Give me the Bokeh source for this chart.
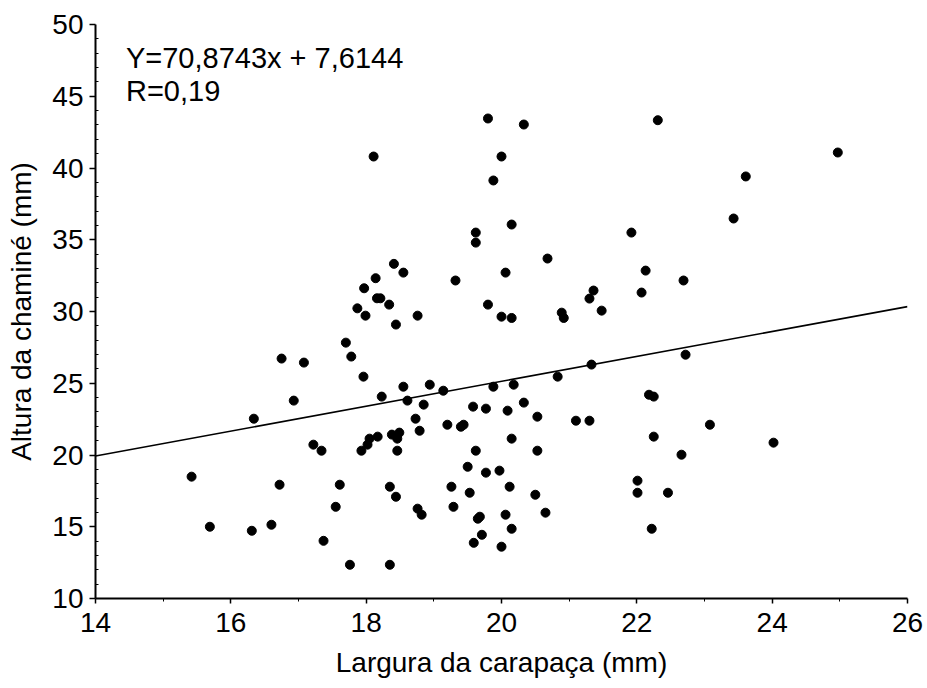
from bokeh.plotting import figure
from bokeh.models import Range1d, FixedTicker, Label, ColumnDataSource
from bokeh.embed import file_html
from bokeh.resources import INLINE

# Data
carapace_width = [
    18.11, 18.41, 18.55, 18.14, 17.97, 18.16, 18.21, 18.34, 17.87, 17.99,
    18.76, 19.32, 18.44, 19.80, 20.33, 22.31, 20.00, 19.88, 24.97, 23.61,
    23.43, 20.15, 19.62, 19.62, 21.92, 20.68, 20.06, 22.13, 22.69, 21.36,
    21.30, 22.07, 19.80, 21.48, 20.00, 20.15, 20.89, 20.92, 22.72, 21.33,
    20.83, 19.88, 20.18, 22.18, 22.25, 19.58, 19.77, 20.33, 20.09, 20.53,
    21.10, 21.30, 23.08, 19.44, 19.40, 20.15, 22.25, 24.02, 19.62, 20.53,
    22.66, 19.50, 19.97, 19.77, 20.12, 22.01, 22.01, 22.46, 19.53, 20.50,
    20.65, 20.06, 19.65, 19.68, 20.15, 22.22, 19.71, 19.59, 20.00, 15.42,
    15.69, 16.31, 16.60, 16.34, 16.75, 17.08, 16.93, 16.72, 17.22, 17.34,
    17.37, 17.61, 17.55, 17.76, 18.35, 17.70, 17.78, 17.96, 18.23, 18.55,
    18.61, 18.85, 18.73, 18.94, 19.14, 19.20, 18.79, 18.38, 18.46, 18.49,
    18.17, 18.05, 18.02, 17.93, 18.46, 18.35, 18.44, 18.76, 18.82, 19.26,
    19.29,
]
chimney_height = [
    40.80, 33.32, 32.71, 32.32, 31.62, 30.92, 30.92, 30.48, 30.22, 29.71,
    29.71, 32.16, 29.09, 43.45, 43.03, 43.33, 40.80, 39.13, 41.08, 39.41,
    36.48, 36.06, 35.50, 34.80, 35.50, 33.69, 32.71, 32.85, 32.16, 31.46,
    30.90, 31.32, 30.48, 30.06, 29.64, 29.55, 29.92, 29.55, 26.99, 26.30,
    25.46, 24.76, 24.90, 24.20, 24.07, 23.37, 23.23, 23.65, 23.09, 22.67,
    22.39, 22.39, 22.11, 22.11, 21.97, 21.14, 21.28, 20.86, 20.30, 20.30,
    20.02, 19.18, 18.91, 18.77, 17.79, 18.21, 17.37, 17.37, 17.37, 17.23,
    15.98, 15.84, 15.56, 15.70, 14.86, 14.86, 14.44, 13.88, 13.61, 18.49,
    15.00, 14.72, 15.14, 22.53, 26.72, 26.44, 23.79, 17.93, 20.72, 20.30,
    14.02, 17.93, 16.39, 12.35, 12.35, 27.83, 26.86, 25.46, 24.07, 24.76,
    23.79, 23.51, 22.53, 24.90, 24.48, 22.11, 21.69, 21.42, 21.14, 21.56,
    21.28, 21.14, 20.72, 20.30, 20.30, 17.79, 17.09, 16.26, 15.84, 17.79,
    16.39,
]
fit_x = [14, 26]
fit_y = [19.93, 30.34]

x_major_ticks = [14, 16, 18, 20, 22, 24, 26]
x_minor_ticks = [15, 17, 19, 21, 23, 25]
y_major_ticks = [10, 15, 20, 25, 30, 35, 40, 45, 50]
y_minor_ticks = [v for v in range(10, 51) if v % 5 != 0]

equation_text = "Y=70,8743x + 7,6144"
r_text = "R=0,19"
x_title = "Largura da carapaça (mm)"
y_title = "Altura da chaminé (mm)"

FONT = "Liberation Sans"
FS = "28px"

p = figure(width=927, height=688, output_backend="svg", toolbar_location=None,
           x_range=Range1d(14, 26), y_range=Range1d(10, 50),
           min_border_left=95, min_border_right=20,
           min_border_top=24, min_border_bottom=90)
p.outline_line_color = None
p.xgrid.visible = False
p.ygrid.visible = False
p.background_fill_color = "white"
p.border_fill_color = "white"

src = ColumnDataSource(dict(x=carapace_width, y=chimney_height))
p.scatter("x", "y", source=src, size=9, color="black", line_color="black")
p.line(fit_x, fit_y, line_color="black", line_width=1.6)

for ax in (p.xaxis[0], p.yaxis[0]):
    ax.axis_line_width = 2
    ax.axis_line_color = "black"
    ax.major_tick_line_color = "black"
    ax.major_tick_line_width = 1.5
    ax.minor_tick_line_color = "black"
    ax.minor_tick_line_width = 1
    ax.major_label_text_font = FONT
    ax.major_label_text_font_size = FS
    ax.major_label_text_color = "black"
    ax.axis_label_text_font = FONT
    ax.axis_label_text_font_size = FS
    ax.axis_label_text_font_style = "normal"
    ax.axis_label_text_color = "black"

xa = p.xaxis[0]
xa.ticker = FixedTicker(ticks=x_major_ticks, minor_ticks=x_minor_ticks)
xa.major_tick_in = 0
xa.major_tick_out = 5
xa.minor_tick_in = 0
xa.minor_tick_out = 3
xa.major_label_standoff = 9
xa.axis_label = x_title
xa.axis_label_standoff = 12

ya = p.yaxis[0]
ya.ticker = FixedTicker(ticks=y_major_ticks, minor_ticks=y_minor_ticks)
ya.major_tick_in = 0
ya.major_tick_out = 6
ya.minor_tick_in = 3
ya.minor_tick_out = 0
ya.major_label_standoff = 6
ya.axis_label = y_title
ya.axis_label_standoff = 12

p.add_layout(Label(x=14.45, y=47.7, text=equation_text, text_font=FONT,
                   text_font_size="29px", text_color="black", text_baseline="alphabetic"))
p.add_layout(Label(x=14.45, y=45.4, text=r_text, text_font=FONT,
                   text_font_size="29px", text_color="black", text_baseline="alphabetic"))

open("out.html", "w").write(file_html(p, INLINE))
